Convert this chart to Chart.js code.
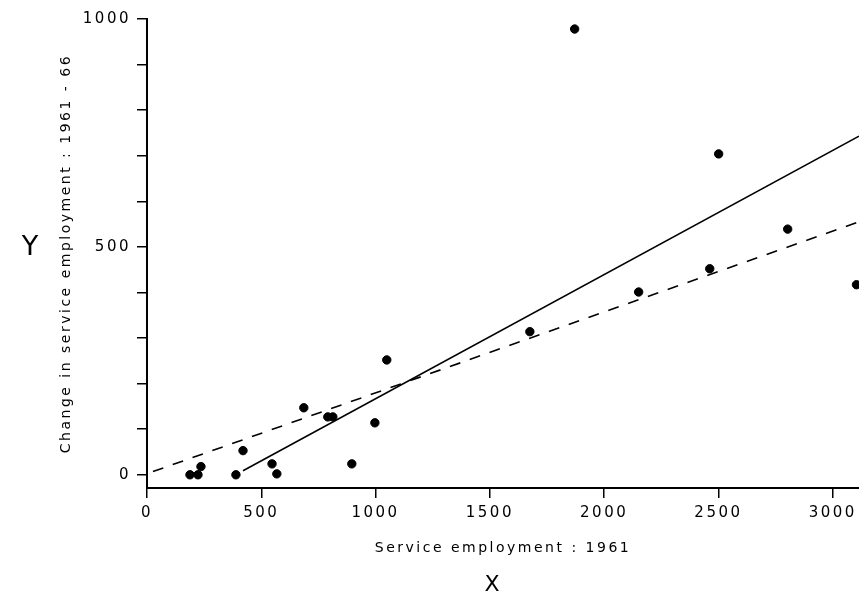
<!DOCTYPE html>
<html>
<head>
<meta charset="utf-8">
<title>Service employment 1961 and change 1961-66</title>
<script src="https://cdn.jsdelivr.net/npm/chart.js@4/dist/chart.umd.min.js"></script>
<style>
  html, body { margin: 0; padding: 0; background: #fff; }
  #chart { display: block; }
</style>
</head>
<body>
<canvas id="chart" width="859" height="595"></canvas>
<script>
// Service employment in 1961 (x) and its change over 1961-66 (y), one value per area
const employment1961 = [188, 223, 236, 389, 420, 547, 568, 686, 791, 813, 896, 997, 1049, 1675, 1871, 2151, 2462, 2501, 2803, 3104];
const change1961to66 = [0, 0, 18, 0, 53, 24, 2, 147, 127, 127, 24, 114, 252, 314, 978, 401, 452, 704, 539, 417];

// Fitted lines, given by their end points
const solidFitX = [420, 3115];
const solidFitY = [9, 743];
const dashedFitX = [26, 3115];
const dashedFitY = [7, 555];

// Axis ranges and ticks
const xRange = [0, 3115];
const yRange = [-29, 1000];
const xTickValues = [0, 500, 1000, 1500, 2000, 2500, 3000];
const yTickValues = [0, 100, 200, 300, 400, 500, 600, 700, 800, 900, 1000];
const yLabelledTicks = [0, 500, 1000];

const FONT = "'DejaVu Sans', sans-serif";
const SPACING = '2.5px';

const toPoints = (xs, ys) => xs.map((x, i) => ({ x, y: ys[i] }));
const setTicks = (values) => (scale) => { scale.ticks = values.map((value) => ({ value })); };

// Wide letter spacing for all canvas text, plus the large axis letters
const lettering = {
  id: 'lettering',
  beforeLayout(chart) { chart.ctx.letterSpacing = SPACING; },
  beforeDraw(chart) { chart.ctx.letterSpacing = SPACING; },
  afterDraw(chart) {
    const { ctx, chartArea } = chart;
    ctx.save();
    ctx.letterSpacing = '0px';
    ctx.fillStyle = '#000';
    ctx.textAlign = 'center';
    ctx.textBaseline = 'middle';
    ctx.font = '27px ' + FONT;
    ctx.fillText('Y', chartArea.left - 117, (chartArea.top + chartArea.bottom) / 2 - 6);
    ctx.font = '22px ' + FONT;
    ctx.fillText('X', (chartArea.left + chartArea.right) / 2 - 11, chartArea.bottom + 97);
    ctx.restore();
  }
};

new Chart(document.getElementById('chart'), {
  type: 'scatter',
  data: {
    datasets: [
      {
        label: 'Areas',
        data: toPoints(employment1961, change1961to66),
        backgroundColor: '#000',
        borderColor: '#000',
        pointRadius: 4.2,
        pointHoverRadius: 4.2,
        order: 0
      },
      {
        label: 'Fit (solid)',
        data: toPoints(solidFitX, solidFitY),
        showLine: true,
        borderColor: '#000',
        borderWidth: 1.6,
        pointRadius: 0,
        order: 1
      },
      {
        label: 'Fit (dashed)',
        data: toPoints(dashedFitX, dashedFitY),
        showLine: true,
        borderColor: '#000',
        borderWidth: 1.6,
        borderDash: [11, 10],
        pointRadius: 0,
        order: 2
      }
    ]
  },
  options: {
    responsive: false,
    animation: false,
    layout: { autoPadding: false, padding: { top: 19, right: 0, bottom: 0, left: 0 } },
    plugins: {
      legend: { display: false },
      tooltip: { enabled: false }
    },
    scales: {
      x: {
        type: 'linear',
        min: xRange[0],
        max: xRange[1],
        afterBuildTicks: setTicks(xTickValues),
        afterFit(scale) { scale.height = 107; scale.paddingLeft = 0; scale.paddingRight = 0; },
        border: { display: true, color: '#000', width: 2 },
        grid: { drawOnChartArea: false, drawTicks: true, tickLength: 10, color: '#000', lineWidth: 1.5 },
        ticks: {
          autoSkip: false,
          maxRotation: 0,
          color: '#000',
          padding: 6,
          font: { family: FONT, size: 15 },
          callback: (v) => String(v)
        },
        title: {
          display: true,
          text: 'Service employment : 1961',
          color: '#000',
          font: { family: FONT, size: 14 },
          padding: { top: 0, bottom: 38 }
        }
      },
      y: {
        type: 'linear',
        min: yRange[0],
        max: yRange[1],
        afterBuildTicks: setTicks(yTickValues),
        afterFit(scale) { scale.width = 147; scale.paddingTop = 0; scale.paddingBottom = 0; },
        border: { display: true, color: '#000', width: 2 },
        grid: { drawOnChartArea: false, drawTicks: true, tickLength: 10, color: '#000', lineWidth: 1.5 },
        ticks: {
          autoSkip: false,
          color: '#000',
          padding: 6,
          font: { family: FONT, size: 15 },
          callback: (v) => (yLabelledTicks.includes(v) ? String(v) : '')
        },
        title: {
          display: true,
          text: 'Change in service employment : 1961 - 66',
          color: '#000',
          font: { family: FONT, size: 14 },
          padding: { top: 58, bottom: 0 }
        }
      }
    }
  },
  plugins: [lettering]
});
</script>
</body>
</html>
